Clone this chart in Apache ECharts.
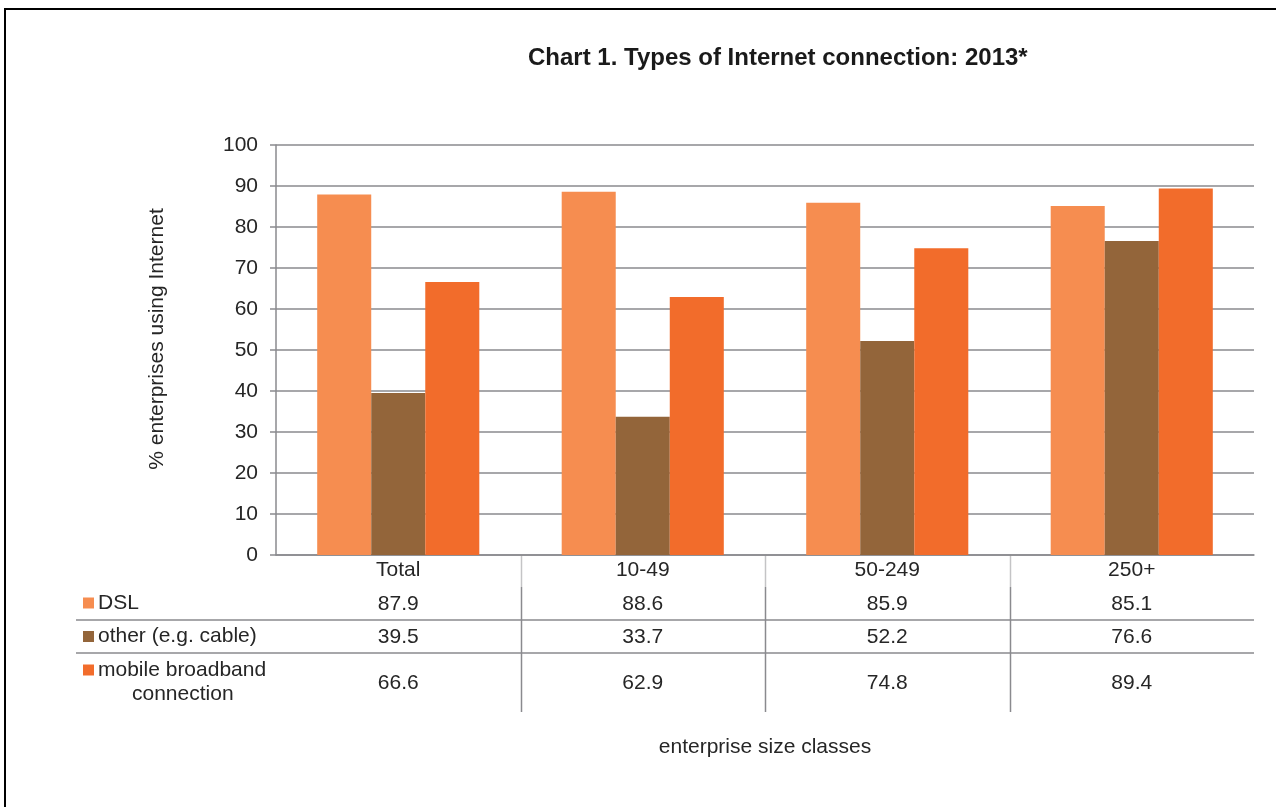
<!DOCTYPE html>
<html>
<head>
<meta charset="utf-8">
<script src="https://cdn.jsdelivr.net/npm/echarts@6/dist/echarts.min.js"></script>
<style>
html,body{margin:0;padding:0;background:#fff;}
#main{width:1276px;height:807px;}
</style>
</head>
<body>
<div id="main"></div>
<script>
const categories = ['Total', '10-49', '50-249', '250+'];
const dslValues = [87.9, 88.6, 85.9, 85.1];
const otherValues = [39.5, 33.7, 52.2, 76.6];
const mobileValues = [66.6, 62.9, 74.8, 89.4];
const seriesNames = ['DSL', 'other (e.g. cable)', 'mobile broadband connection'];
const colors = ['#F68D50', '#93653A', '#F26C2B'];

const FONT = '"Liberation Sans", Arial, sans-serif';
const FS = 21;
const TXT = '#262626';
const GRAY = '#8a8a8e';

const G = {left: 276, right: 22, top: 145, bottom: 252};
const W = 1276, H = 807;
const gx0 = G.left, gx1 = W - G.right, gy1 = H - G.bottom;
const bw = (gx1 - gx0) / categories.length;

function rowAxis(offset, vals) {
  return {
    type: 'category', gridIndex: 0, position: 'bottom', offset: offset,
    data: categories,
    axisLine: {show: false}, axisTick: {show: false}, splitLine: {show: false},
    axisLabel: {margin: 5, fontSize: FS, color: TXT, fontFamily: FONT,
      formatter: (v, i) => vals[i].toFixed(1)}
  };
}

const graphics = [
  {type: 'rect', shape: {x: 5, y: 9, width: 1400, height: 1000}, style: {fill: 'none', stroke: '#000', lineWidth: 2}, silent: true},
  {type: 'line', shape: {x1: 76, y1: 620, x2: gx1, y2: 620}, style: {stroke: GRAY, lineWidth: 1.5}},
  {type: 'line', shape: {x1: 76, y1: 653, x2: gx1, y2: 653}, style: {stroke: GRAY, lineWidth: 1.5}}
];
for (let i = 1; i < categories.length; i++) {
  const x = Math.round(gx0 + bw * i) + 0.5;
  graphics.push({type: 'line', shape: {x1: x, y1: gy1, x2: x, y2: 587}, style: {stroke: '#c4c4c6', lineWidth: 1.5}});
  graphics.push({type: 'line', shape: {x1: x, y1: 587, x2: x, y2: 712}, style: {stroke: GRAY, lineWidth: 1.5}});
}

const legendBase = {
  orient: 'vertical', left: 83, padding: 0, itemWidth: 11, itemHeight: 11, itemGap: 0,
  icon: 'rect', selectedMode: false,
  textStyle: {fontSize: FS, color: TXT, fontFamily: FONT, padding: [0, 0, 0, -1]}
};

const chart = echarts.init(document.getElementById('main'));
chart.setOption({
  animation: false,
  backgroundColor: '#fff',
  color: colors,
  title: {
    text: 'Chart 1. Types of Internet connection: 2013*',
    left: 528, top: 46, padding: 0,
    textStyle: {fontSize: 24, fontWeight: 'bold', color: '#1a1a1a', fontFamily: FONT}
  },
  legend: [
    Object.assign({}, legendBase, {data: [seriesNames[0]], top: 592.5}),
    Object.assign({}, legendBase, {data: [seriesNames[1]], top: 626}),
    Object.assign({}, legendBase, {data: [seriesNames[2]], top: 659.5,
      formatter: () => '{a|mobile broadband}\n{b|connection}',
      textStyle: {fontSize: FS, color: TXT, fontFamily: FONT, padding: [24, 0, 0, -1],
        rich: {a: {fontSize: FS, color: TXT, fontFamily: FONT, lineHeight: 24},
               b: {fontSize: FS, color: TXT, fontFamily: FONT, lineHeight: 24, padding: [0, 0, 0, 34]}}}})
  ],
  grid: {left: G.left, right: G.right, top: G.top, bottom: G.bottom, containLabel: false},
  xAxis: [
    {
      type: 'category', gridIndex: 0, position: 'bottom', data: categories,
      axisLine: {show: true, lineStyle: {color: GRAY, width: 1.5}},
      axisTick: {show: false},
      axisLabel: {margin: 5, fontSize: FS, color: TXT, fontFamily: FONT},
      name: 'enterprise size classes', nameLocation: 'middle', nameGap: 182,
      nameTextStyle: {fontSize: FS, color: TXT, fontFamily: FONT}
    },
    rowAxis(34, dslValues),
    rowAxis(67, otherValues),
    rowAxis(113, mobileValues)
  ],
  yAxis: {
    type: 'value', min: 0, max: 100, interval: 10,
    axisLine: {show: true, lineStyle: {color: GRAY, width: 1.5}},
    axisTick: {show: true, length: 6, lineStyle: {color: GRAY, width: 1.5}},
    splitLine: {show: true, lineStyle: {color: GRAY, width: 1.5}},
    axisLabel: {margin: 18, fontSize: FS, color: TXT, fontFamily: FONT},
    name: '% enterprises using Internet', nameLocation: 'middle', nameGap: 108, nameRotate: 90,
    nameTextStyle: {fontSize: FS, color: TXT, fontFamily: FONT, padding: [0, 0, 0, 22]}
  },
  series: [
    {name: seriesNames[0], type: 'bar', data: dslValues, barGap: '0%', barCategoryGap: '33.7%', xAxisIndex: 0},
    {name: seriesNames[1], type: 'bar', data: otherValues, barGap: '0%', barCategoryGap: '33.7%', xAxisIndex: 0},
    {name: seriesNames[2], type: 'bar', data: mobileValues, barGap: '0%', barCategoryGap: '33.7%', xAxisIndex: 0}
  ],
  graphic: graphics
});
</script>
</body>
</html>
